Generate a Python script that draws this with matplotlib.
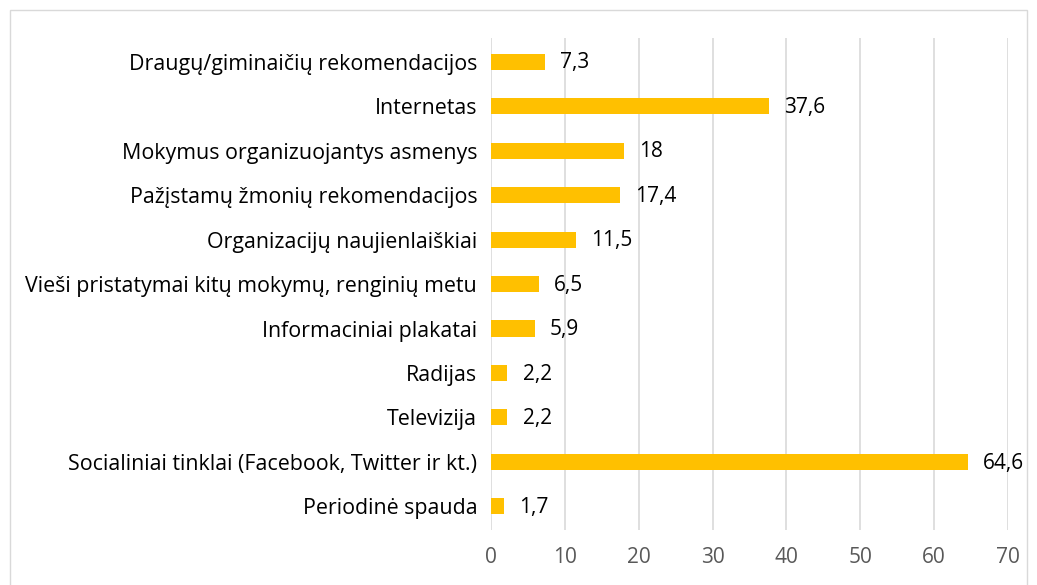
import matplotlib.pyplot as plt
from matplotlib.patches import Rectangle

# Duomenys
categories = [
    "Draugų/giminaičių rekomendacijos",
    "Internetas",
    "Mokymus organizuojantys asmenys",
    "Pažįstamų žmonių rekomendacijos",
    "Organizacijų naujienlaiškiai",
    "Vieši pristatymai kitų mokymų, renginių metu",
    "Informaciniai plakatai",
    "Radijas",
    "Televizija",
    "Socialiniai tinklai (Facebook, Twitter ir kt.)",
    "Periodinė spauda",
]
values = [7.3, 37.6, 18, 17.4, 11.5, 6.5, 5.9, 2.2, 2.2, 64.6, 1.7]
xticks = [0, 10, 20, 30, 40, 50, 60, 70]

plt.rcParams['font.family'] = ['Open Sans', 'DejaVu Sans']

fig = plt.figure(figsize=(10.37, 5.85), dpi=100)
ax = fig.add_axes([0.4735, 0.094, 0.4985, 0.841])

pos = list(range(len(categories)))
ax.barh(pos, values, height=0.36, color="#FFC000", zorder=3)

for y, v in zip(pos, values):
    txt = f"{v:g}".replace(".", ",")
    ax.annotate(txt, (v, y), xytext=(11, -1), textcoords="offset points",
                va="center", ha="left", fontsize=15, color="#000000")

ax.set_yticks(pos)
ax.set_yticklabels(categories, fontsize=15.4, color="#000000")
ax.set_ylim(10.53, -0.53)
ax.set_xlim(0, 70)
ax.set_xticks(xticks)
ax.set_xticklabels([str(t) for t in xticks], fontsize=15, color="#595959")
ax.tick_params(axis="y", length=0, pad=10)
ax.tick_params(axis="x", length=0, pad=12)
ax.grid(axis="x", color="#D9D9D9", linewidth=1.2, zorder=0)
for s in ax.spines.values():
    s.set_visible(False)

# Rėmelis aplink diagramą
fig.patches.append(Rectangle((10 / 1037, -0.01), 1017 / 1037, 1 - 10 / 585 + 0.01,
                             transform=fig.transFigure, fill=False,
                             edgecolor="#D9D9D9", linewidth=1))

fig.savefig("out.png", dpi=100)
